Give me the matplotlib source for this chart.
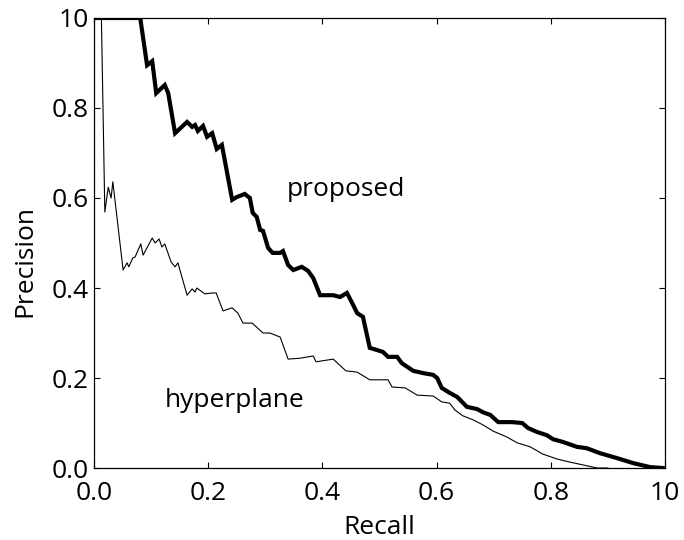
import matplotlib
matplotlib.use('Agg')
import matplotlib.pyplot as plt

# precision / recall readings for both methods
proposed_recall = [0.0, 0.081, 0.093, 0.102, 0.109, 0.124, 0.130, 0.142, 0.163, 0.172, 0.177,
                   0.182, 0.191, 0.198, 0.207, 0.215, 0.224, 0.242, 0.250, 0.264, 0.273, 0.278,
                   0.285, 0.291, 0.296, 0.305, 0.313, 0.326, 0.331, 0.340, 0.349, 0.364, 0.375,
                   0.384, 0.396, 0.419, 0.431, 0.443, 0.452, 0.461, 0.471, 0.483, 0.496, 0.506,
                   0.515, 0.531, 0.539, 0.559, 0.576, 0.594, 0.601, 0.609, 0.623, 0.636, 0.653,
                   0.671, 0.681, 0.694, 0.708, 0.732, 0.750, 0.760, 0.776, 0.793, 0.804, 0.821,
                   0.846, 0.863, 0.886, 0.916, 0.944, 0.974, 0.996]
proposed_precision = [1.0, 1.0, 0.895, 0.904, 0.833, 0.851, 0.833, 0.744, 0.769, 0.758, 0.762,
                      0.749, 0.760, 0.736, 0.744, 0.709, 0.718, 0.596, 0.602, 0.609, 0.600, 0.567,
                      0.558, 0.529, 0.527, 0.489, 0.478, 0.478, 0.482, 0.451, 0.440, 0.447, 0.438,
                      0.422, 0.384, 0.384, 0.380, 0.389, 0.367, 0.344, 0.336, 0.267, 0.262, 0.258,
                      0.247, 0.247, 0.233, 0.216, 0.211, 0.207, 0.200, 0.178, 0.167, 0.158, 0.136,
                      0.131, 0.124, 0.118, 0.102, 0.102, 0.100, 0.089, 0.080, 0.073, 0.064, 0.058,
                      0.047, 0.044, 0.033, 0.022, 0.011, 0.002, 0.0]

hyper_recall = [0.013, 0.019, 0.025, 0.030, 0.033, 0.051, 0.058, 0.061, 0.068, 0.072, 0.082,
                0.086, 0.102, 0.107, 0.114, 0.119, 0.124, 0.135, 0.142, 0.147, 0.163, 0.172,
                0.177, 0.180, 0.194, 0.208, 0.214, 0.226, 0.242, 0.252, 0.261, 0.277, 0.296,
                0.308, 0.326, 0.340, 0.361, 0.384, 0.389, 0.419, 0.441, 0.461, 0.483, 0.515,
                0.522, 0.545, 0.566, 0.594, 0.609, 0.623, 0.632, 0.646, 0.664, 0.681, 0.699,
                0.723, 0.741, 0.764, 0.786, 0.811, 0.834, 0.856, 0.881, 0.900]
hyper_precision = [1.0, 0.569, 0.624, 0.600, 0.636, 0.440, 0.456, 0.447, 0.467, 0.469, 0.498,
                   0.473, 0.511, 0.500, 0.509, 0.491, 0.498, 0.458, 0.447, 0.456, 0.384, 0.398,
                   0.391, 0.400, 0.387, 0.389, 0.389, 0.349, 0.356, 0.344, 0.322, 0.322, 0.300,
                   0.300, 0.291, 0.242, 0.244, 0.249, 0.236, 0.242, 0.216, 0.213, 0.196, 0.196,
                   0.180, 0.178, 0.162, 0.160, 0.147, 0.144, 0.129, 0.116, 0.107, 0.096, 0.082,
                   0.069, 0.056, 0.047, 0.031, 0.020, 0.013, 0.007, 0.0, 0.0]

tick_values = [0.0, 0.2, 0.4, 0.6, 0.8, 1.0]
tick_labels = ['0.0', '0.2', '0.4', '0.6', '0.8', '10']


def main():
    plt.rcParams['font.family'] = ['Open Sans', 'DejaVu Sans']
    fig = plt.figure(figsize=(6.84, 5.4), dpi=100)
    ax = fig.add_axes([0.1374, 0.1333, 0.8348, 0.8334])

    ax.plot(hyper_recall, hyper_precision, color='black', lw=0.8)
    ax.plot(proposed_recall, proposed_precision, color='black', lw=3.0, solid_joinstyle='miter')

    ax.set_xlim(0, 1)
    ax.set_ylim(0, 1)
    ax.set_xticks(tick_values)
    ax.set_xticklabels(tick_labels)
    ax.set_yticks(tick_values)
    ax.set_yticklabels(tick_labels)
    ax.tick_params(direction='in', length=4, width=0.8, top=True, right=True, labelsize=19)
    ax.tick_params(axis='x', pad=9)
    ax.tick_params(axis='y', pad=4)
    for s in ax.spines.values():
        s.set_linewidth(0.9)

    ax.text(0.338, 0.618, 'proposed', fontsize=19, va='center', ha='left')
    ax.text(0.124, 0.151, 'hyperplane', fontsize=19, va='center', ha='left')

    ax.set_xlabel('Recall', fontsize=19)
    ax.xaxis.set_label_coords(0.5, -0.105)
    ax.set_ylabel('Precision', fontsize=19)
    ax.yaxis.set_label_coords(-0.10, 0.46)

    fig.savefig('out.png', dpi=100)


if __name__ == '__main__':
    main()
